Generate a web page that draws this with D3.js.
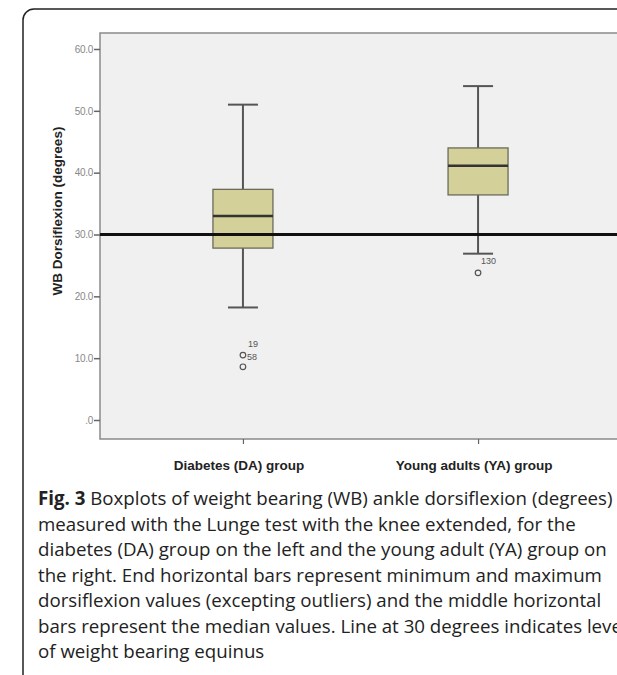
<!DOCTYPE html>
<html>
<head>
<meta charset="utf-8">
<script src="https://cdn.jsdelivr.net/npm/d3@7"></script>
<style>
  body { margin: 0; background: #fff; }
</style>
</head>
<body>
<div id="chart"></div>
<script>
// data
var groups = ["Diabetes (DA) group", "Young adults (YA) group"];
var whiskerLow = [18.2, 26.9];
var quartile1 = [27.8, 36.4];
var medians = [33.0, 41.1];
var quartile3 = [37.3, 44.0];
var whiskerHigh = [51.0, 54.0];
var outlierGroup = [0, 0, 1];
var outlierValue = [10.5, 8.6, 23.8];
var outlierLabel = ["19", "58", "130"];
var yTicks = [0, 10, 20, 30, 40, 50, 60];
var refValue = 30;
var captionLines = [
  "Boxplots of weight bearing (WB) ankle dorsiflexion (degrees)",
  "measured with the Lunge test with the knee extended, for the",
  "diabetes (DA) group on the left and the young adult (YA) group on",
  "the right. End horizontal bars represent minimum and maximum",
  "dorsiflexion values (excepting outliers) and the middle horizontal",
  "bars represent the median values. Line at 30 degrees indicates level",
  "of weight bearing equinus"
];

var W = 617, H = 675;
var plot = {left: 100, top: 33, right: 621, bottom: 439};

var svg = d3.select("#chart").append("svg")
  .attr("width", W)
  .attr("height", H);

// outer frame (cut off on the right like the source)
svg.append("rect")
  .attr("x", 23).attr("y", 9)
  .attr("width", 700).attr("height", 720)
  .attr("rx", 11)
  .attr("fill", "#fff")
  .attr("stroke", "#222")
  .attr("stroke-width", 1.5);

var y = d3.scaleLinear().domain([0, 60]).range([420, 49]);
var x = d3.scalePoint().domain(groups).range([plot.left, plot.right]).padding(0.608);

// plot background
svg.append("rect")
  .attr("x", plot.left).attr("y", plot.top)
  .attr("width", plot.right - plot.left).attr("height", plot.bottom - plot.top)
  .attr("fill", "#f0f0f0")
  .attr("stroke", "#8a8a8a")
  .attr("stroke-width", 1.5);

// y axis
var yAxis = svg.append("g")
  .attr("transform", "translate(" + plot.left + ",0)")
  .call(d3.axisLeft(y).tickValues(yTicks).tickSize(6)
    .tickFormat(function(d) { return d === 0 ? ".0" : d.toFixed(1); }));
yAxis.select(".domain").remove();
yAxis.selectAll(".tick line").attr("stroke", "#666").attr("stroke-width", 1.5);
yAxis.selectAll(".tick text")
  .attr("x", -7)
  .attr("fill", "#888")
  .style("font-family", "Liberation Sans, Arial, sans-serif")
  .style("font-size", "10px")
  .style("letter-spacing", "-0.3px");

// x axis
var xAxis = svg.append("g")
  .attr("transform", "translate(0," + plot.bottom + ")")
  .call(d3.axisBottom(x).tickSize(5).tickFormat(""));
xAxis.select(".domain").remove();
xAxis.selectAll(".tick line").attr("stroke", "#666").attr("stroke-width", 1.2);

svg.selectAll(".xlabel")
  .data(groups)
  .enter().append("text")
  .attr("class", "xlabel")
  .attr("x", function(d) { return x(d) - 4; })
  .attr("y", 470)
  .attr("text-anchor", "middle")
  .attr("fill", "#222")
  .style("font-family", "Liberation Sans, Arial, sans-serif")
  .style("font-weight", "bold")
  .style("font-size", "13.5px")
  .text(function(d) { return d; });

// y title
svg.append("text")
  .attr("transform", "translate(62,211) rotate(-90)")
  .attr("text-anchor", "middle")
  .attr("fill", "#222")
  .style("font-family", "Liberation Sans, Arial, sans-serif")
  .style("font-weight", "bold")
  .style("font-size", "13.5px")
  .text("WB Dorsiflexion (degrees)");

var boxW = 60, capW = 30;
var boxes = svg.selectAll(".box")
  .data(groups)
  .enter().append("g")
  .attr("class", "box");

// whiskers
boxes.append("line")
  .attr("x1", function(d) { return x(d); })
  .attr("x2", function(d) { return x(d); })
  .attr("y1", function(d, i) { return y(whiskerLow[i]); })
  .attr("y2", function(d, i) { return y(whiskerHigh[i]); })
  .attr("stroke", "#555").attr("stroke-width", 2);
boxes.append("line")
  .attr("x1", function(d) { return x(d) - capW / 2; })
  .attr("x2", function(d) { return x(d) + capW / 2; })
  .attr("y1", function(d, i) { return y(whiskerHigh[i]); })
  .attr("y2", function(d, i) { return y(whiskerHigh[i]); })
  .attr("stroke", "#555").attr("stroke-width", 2);
boxes.append("line")
  .attr("x1", function(d) { return x(d) - capW / 2; })
  .attr("x2", function(d) { return x(d) + capW / 2; })
  .attr("y1", function(d, i) { return y(whiskerLow[i]); })
  .attr("y2", function(d, i) { return y(whiskerLow[i]); })
  .attr("stroke", "#555").attr("stroke-width", 2);

// box
boxes.append("rect")
  .attr("x", function(d) { return x(d) - boxW / 2; })
  .attr("width", boxW)
  .attr("y", function(d, i) { return y(quartile3[i]); })
  .attr("height", function(d, i) { return y(quartile1[i]) - y(quartile3[i]); })
  .attr("fill", "#d4d099")
  .attr("stroke", "#6b6b5a")
  .attr("stroke-width", 1.3);

// median
boxes.append("line")
  .attr("x1", function(d) { return x(d) - boxW / 2; })
  .attr("x2", function(d) { return x(d) + boxW / 2; })
  .attr("y1", function(d, i) { return y(medians[i]); })
  .attr("y2", function(d, i) { return y(medians[i]); })
  .attr("stroke", "#333").attr("stroke-width", 2.5);

// outliers
svg.selectAll(".outlier")
  .data(outlierValue)
  .enter().append("circle")
  .attr("class", "outlier")
  .attr("cx", function(d, i) { return x(groups[outlierGroup[i]]); })
  .attr("cy", function(d) { return y(d); })
  .attr("r", 2.8)
  .attr("fill", "none")
  .attr("stroke", "#555")
  .attr("stroke-width", 1.2);

var labelOffsets = [[5, -8], [4, -7], [3, -9]];
svg.selectAll(".olabel")
  .data(outlierLabel)
  .enter().append("text")
  .attr("class", "olabel")
  .attr("x", function(d, i) { return x(groups[outlierGroup[i]]) + labelOffsets[i][0]; })
  .attr("y", function(d, i) { return y(outlierValue[i]) + labelOffsets[i][1]; })
  .attr("fill", "#555")
  .style("font-family", "Liberation Sans, Arial, sans-serif")
  .style("font-size", "9px")
  .text(function(d) { return d; });

// reference line at 30 degrees
svg.append("line")
  .attr("x1", plot.left).attr("x2", W)
  .attr("y1", y(refValue)).attr("y2", y(refValue))
  .attr("stroke", "#111").attr("stroke-width", 3);

// caption (the source figure is cropped on the right, so long lines run off)
var cap = svg.append("text")
  .attr("fill", "#222")
  .style("font-family", "Open Sans, sans-serif")
  .style("font-size", "18.7px");
captionLines.forEach(function(line, i) {
  var t = cap.append("tspan")
    .attr("x", 38)
    .attr("y", 505 + i * 25.5);
  if (i === 0) {
    t.append("tspan").style("font-weight", "bold").text("Fig. 3 ");
  }
  t.append("tspan").text(line);
});
</script>
</body>
</html>
